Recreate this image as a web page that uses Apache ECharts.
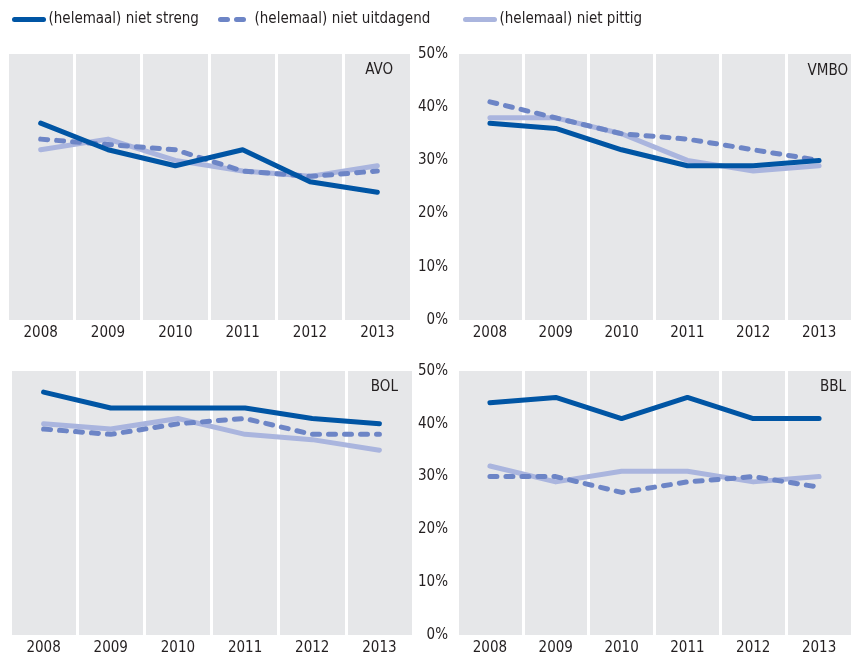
<!DOCTYPE html>
<html>
<head>
<meta charset="utf-8">
<script src="https://cdn.jsdelivr.net/npm/echarts@6/dist/echarts.min.js"></script>
<style>
  html, body { margin: 0; padding: 0; background: #fff; }
  #chart { width: 852px; height: 656px; }
</style>
</head>
<body>
<div id="chart"></div>
<script>
// data (percent)
var years = ['2008', '2009', '2010', '2011', '2012', '2013'];
var seriesNames = ['(helemaal) niet streng', '(helemaal) niet uitdagend', '(helemaal) niet pittig'];
var panelNames = ['AVO', 'VMBO', 'BOL', 'BBL'];

var avoStreng = [37, 32, 29, 32, 26, 24];
var avoUitdagend = [34, 33, 32, 28, 27, 28];
var avoPittig = [32, 34, 30, 28, 27, 29];

var vmboStreng = [37, 36, 32, 29, 29, 30];
var vmboUitdagend = [41, 38, 35, 34, 32, 30];
var vmboPittig = [38, 38, 35, 30, 28, 29];

var bolStreng = [46, 43, 43, 43, 41, 40];
var bolUitdagend = [39, 38, 40, 41, 38, 38];
var bolPittig = [40, 39, 41, 38, 37, 35];

var bblStreng = [44, 45, 41, 45, 41, 41];
var bblUitdagend = [30, 30, 27, 29, 30, 28];
var bblPittig = [32, 29, 31, 31, 29, 30];

var panelData = [
  [avoStreng, avoUitdagend, avoPittig],
  [vmboStreng, vmboUitdagend, vmboPittig],
  [bolStreng, bolUitdagend, bolPittig],
  [bblStreng, bblUitdagend, bblPittig]
];

var FONT = '"Liberation Sans Narrow", "DejaVu Sans Condensed", sans-serif';
var TXT = '#231f20';
var colors = ['#0055a4', '#6d85c6', '#aab5de'];

var chart = echarts.init(document.getElementById('chart'));

var grids = [
  { left: 7, right: 441, top: 54, height: 266 },
  { left: 457, right: 0, top: 54, height: 266 },
  { left: 10, right: 439, top: 371, height: 266 },
  { left: 457, right: 0, top: 371, height: 266 }
];
grids.forEach(function (g) {
  g.show = true;
  g.backgroundColor = '#e6e7e9';
  g.borderWidth = 0;
});

var xAxes = [], yAxes = [], series = [];
for (var i = 0; i < 4; i++) {
  xAxes.push({
    type: 'category',
    gridIndex: i,
    data: years,
    boundaryGap: true,
    axisLine: { show: false },
    axisTick: { show: false },
    axisLabel: { color: TXT, fontSize: 15, fontFamily: FONT, margin: 6 },
    splitLine: { show: true, lineStyle: { color: '#ffffff', width: 3 } }
  });
  var showY = (i === 1 || i === 3);
  yAxes.push({
    type: 'value',
    gridIndex: i,
    min: 0,
    max: 50,
    interval: 10,
    axisLine: { show: false },
    axisTick: { show: false },
    splitLine: { show: false },
    axisLabel: {
      show: showY,
      formatter: '{value}%',
      color: TXT,
      fontSize: 15,
      fontFamily: FONT,
      margin: 9
    }
  });
  for (var s = 0; s < 3; s++) {
    series.push({
      name: seriesNames[s],
      type: 'line',
      xAxisIndex: i,
      yAxisIndex: i,
      data: panelData[i][s],
      showSymbol: false,
      symbol: 'none',
      z: 4 - s,
      color: colors[s],
      lineStyle: {
        color: colors[s],
        width: 5,
        cap: 'round',
        join: 'round',
        type: s === 1 ? [7, 9] : 'solid'
      }
    });
  }
}

var titlePos = [
  { right: 459, top: 63 },
  { right: 4, top: 64 },
  { right: 454, top: 380 },
  { right: 6, top: 380 }
];
var titles = panelNames.map(function (n, i) {
  return {
    text: n,
    right: titlePos[i].right,
    top: titlePos[i].top,
    padding: 0,
    textStyle: { color: TXT, fontSize: 15, fontWeight: 'normal', fontFamily: FONT }
  };
});

var legendLeft = [12, 218, 463];
var legends = seriesNames.map(function (n, i) {
  return {
    data: [n],
    left: legendLeft[i],
    top: 12,
    padding: 0,
    itemWidth: 29,
    itemHeight: 4,
    itemStyle: { color: 'transparent', borderWidth: 0 },
    lineStyle: { width: 5, cap: 'round' },
    textStyle: { color: TXT, fontSize: 15, fontFamily: FONT },
    selectedMode: false
  };
});

var option = {
  animation: false,
  title: titles,
  legend: legends,
  grid: grids,
  xAxis: xAxes,
  yAxis: yAxes,
  series: series
};

chart.setOption(option);
</script>
</body>
</html>
